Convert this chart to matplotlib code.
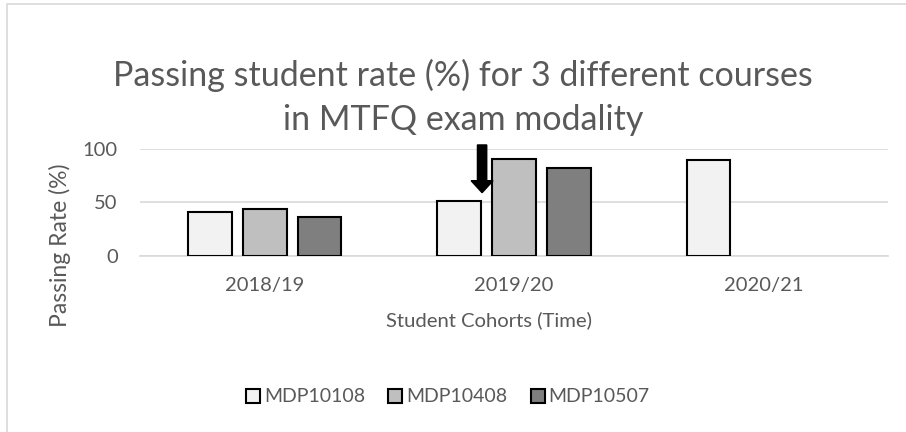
import numpy as np
import matplotlib.pyplot as plt
from matplotlib.patches import Rectangle

cohorts = ['2018/19', '2019/20', '2020/21']
courses = ['MDP10108', 'MDP10408', 'MDP10507']
mdp10108 = [41, 51, 89.5]
mdp10408 = [44, 90.5, np.nan]
mdp10507 = [36.5, 82, np.nan]
bar_colors = ['#F2F2F2', '#BFBFBF', '#7F7F7F']
yticks = [0, 50, 100]

text_color = '#595959'
plt.rcParams['font.family'] = ['Lato', 'DejaVu Sans']

fig = plt.figure(figsize=(9.06, 4.32), dpi=100)
W, H = 906, 432

def fx(px):
    return px / W

def fy(py):
    return 1 - py / H

# chart border (only left/top edges are inside the picture)
fig.patches.append(Rectangle((fx(7), fy(440)), fx(920) - fx(7), fy(4) - fy(440),
                             transform=fig.transFigure, fill=False,
                             edgecolor='#D9D9D9', linewidth=1.2))

ax = fig.add_axes([fx(140), fy(255.7), fx(888) - fx(140), fy(148.7) - fy(255.7)])

x = np.arange(len(cohorts))
step = 0.22
width = 0.176
for i, (vals, name) in enumerate(zip([mdp10108, mdp10408, mdp10507], courses)):
    ax.bar(x + (i - 1) * step, vals, width, color=bar_colors[i],
           edgecolor='black', linewidth=1.5, label=name, zorder=3)

ax.set_xlim(-0.5, len(cohorts) - 0.5)
ax.set_ylim(0, 100)
ax.set_yticks(yticks)
ax.set_xticks(x)
ax.set_xticklabels(cohorts)
ax.yaxis.grid(True, color='#D9D9D9', linewidth=1.2, zorder=0)
ax.set_axisbelow(True)
for s in ['top', 'right', 'left']:
    ax.spines[s].set_visible(False)
ax.spines['bottom'].set_color('#D9D9D9')
ax.spines['bottom'].set_linewidth(1.2)
ax.tick_params(length=0, colors=text_color, labelsize=14.5)
ax.tick_params(axis='y', pad=16)
ax.tick_params(axis='x', pad=15)

# arrow pointing at the 2019/20 MDP10108 bar
ax.arrow(0.872, 103.5, 0, -44.6, width=0.0373, head_width=0.088,
         head_length=11.2, length_includes_head=True, color='black',
         clip_on=False, zorder=5)

fig.text(fx(463), fy(75), 'Passing student rate (%) for 3 different courses',
         ha='center', va='center', fontsize=24.5, color=text_color)
fig.text(fx(463), fy(120), 'in MTFQ exam modality',
         ha='center', va='center', fontsize=24.5, color=text_color)

fig.text(fx(60), fy(245), 'Passing Rate (%)', rotation=90,
         ha='center', va='center', fontsize=16.5, color=text_color)
fig.text(fx(489), fy(320), 'Student Cohorts (Time)',
         ha='center', va='center', fontsize=14.6, color=text_color)

leg = fig.legend(loc='center', bbox_to_anchor=(fx(448), fy(397)), ncol=3,
                 frameon=False, fontsize=14, handlelength=0.72,
                 handleheight=0.72, handletextpad=0.2, columnspacing=1.2)
for t in leg.get_texts():
    t.set_color(text_color)

fig.savefig('out.png', dpi=100)
